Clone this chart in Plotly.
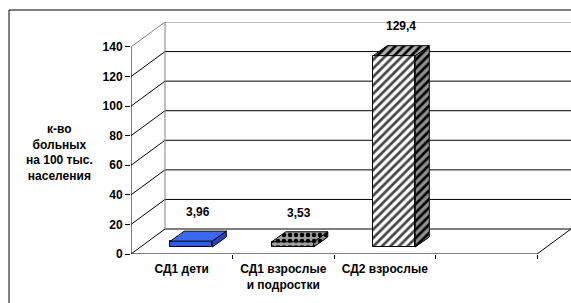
import plotly.graph_objects as go

# ---- data ----
categories = ["СД1 дети", "СД1 взрослые<br>и подростки", "СД2 взрослые"]
values = [3.96, 3.53, 129.4]
value_labels = ["3,96", "3,53", "129,4"]
y_tick_values = [0, 20, 40, 60, 80, 100, 120, 140]
y_title = "к-во<br>больных<br>на 100 тыс.<br>населения"
n_slots = 4

# ---- 3D geometry (in axis units) ----
DX, DY = 0.335, 16.9          # depth of the floor / walls
F0 = 0.28                     # bar starts at this fraction of the depth
BDX, BDY = 0.138, 6.76        # depth of each bar
BAR_W = 0.414
YMAX = y_tick_values[-1]

front_colors = ["#2f5de6", "#a0a0a0", "#ffffff"]
top_colors = ["#3a68ee", "#a0a0a0", "#b0b0b0"]
side_colors = ["#2448b8", "#8a8a8a", "#909090"]
patterns = ["", ".", "/"]
pat_fg = ["#000000", "#000000", "#000000"]

FONT = dict(family="Liberation Sans, Arial, sans-serif", size=12, color="black", weight="bold")

fig = go.Figure()

xc = [i + F0 * DX for i in range(len(values))]
base = [F0 * DY] * len(values)

# front faces
fig.add_trace(go.Bar(
    x=xc, y=values, base=base, width=BAR_W,
    marker=dict(color=front_colors,
                line=dict(color="black", width=1),
                pattern=dict(shape=patterns, fgcolor=pat_fg, bgcolor=front_colors,
                             size=6, solidity=0.45, fgopacity=1)),
    hoverinfo="skip", showlegend=False,
))

# side and top faces
for i, v in enumerate(values):
    x0 = xc[i] - BAR_W / 2
    x1 = xc[i] + BAR_W / 2
    b = base[i]
    t = b + v
    side_x = [x1, x1 + BDX, x1 + BDX, x1, x1]
    side_y = [b, b + BDY, t + BDY, t, b]
    top_x = [x0, x1, x1 + BDX, x0 + BDX, x0]
    top_y = [t, t, t + BDY, t + BDY, t]
    for px, py, col in ((side_x, side_y, side_colors[i]), (top_x, top_y, top_colors[i])):
        kw = dict(fill="toself", fillcolor=col, mode="lines",
                  line=dict(color="black", width=1), hoverinfo="skip", showlegend=False)
        if patterns[i]:
            kw["fillpattern"] = dict(shape=patterns[i], fgcolor="black", bgcolor=col,
                                     size=6, solidity=0.45, fgopacity=1)
        fig.add_trace(go.Scatter(x=px, y=py, **kw))

# walls, floor and gridlines as shapes below the traces
shapes = []
def seg(x0, y0, x1, y1, color="black"):
    shapes.append(dict(type="line", xref="x", yref="y", x0=x0, y0=y0, x1=x1, y1=y1,
                       line=dict(color=color, width=1), layer="below"))

left = -0.5
right = n_slots - 0.5
for v in y_tick_values:
    c = "#808080" if v == YMAX else "black"
    seg(left, v, left + DX, v + DY, c)
    seg(left + DX, v + DY, right + DX, v + DY, c)
seg(left + DX, DY, left + DX, YMAX + DY, "#808080")
seg(left, 0, left, YMAX)
seg(left, 0, right, 0)
seg(right, 0, right + DX, DY)

# outer frame
shapes.append(dict(type="rect", xref="paper", yref="paper",
                   x0=(9 - 131) / 440, y0=-0.4, x1=1.2, y1=(254 - 10) / 232,
                   line=dict(color="black", width=1), layer="below"))

annotations = []
for i, v in enumerate(values):
    annotations.append(dict(x=i + 0.16, y=v + 24.5, xref="x", yref="y",
                            xanchor="center", yanchor="middle",
                            text=value_labels[i], showarrow=False, font=FONT))
annotations.append(dict(x=(59 - 131) / 440, y=(254 - 152) / 232, xref="paper", yref="paper",
                        xanchor="center", yanchor="middle",
                        text=y_title, showarrow=False, font=FONT, align="center"))

fig.update_layout(
    width=571, height=303, autosize=False,
    margin=dict(l=131, r=0, t=22, b=49, pad=0),
    paper_bgcolor="white", plot_bgcolor="rgba(0,0,0,0)",
    shapes=shapes, annotations=annotations,
    showlegend=False, bargap=0,
    xaxis=dict(range=[left, right + DX], tickvals=list(range(len(categories))),
               ticktext=categories, ticks="", showgrid=False, zeroline=False,
               showline=False, tickfont=FONT, ticklabelstandoff=6,
               minor=dict(tickvals=[k + 0.5 for k in range(n_slots)], ticks="outside",
                          ticklen=4, tickcolor="black", showgrid=False)),
    yaxis=dict(range=[0, YMAX + DY], tickvals=y_tick_values, ticks="outside", ticklen=5,
               tickcolor="black", showgrid=False, zeroline=False, showline=False,
               tickfont=FONT),
)

fig.write_html("out.html", config={"displayModeBar": False},
               post_script="document.body.style.margin='0';document.body.style.overflow='hidden';")
